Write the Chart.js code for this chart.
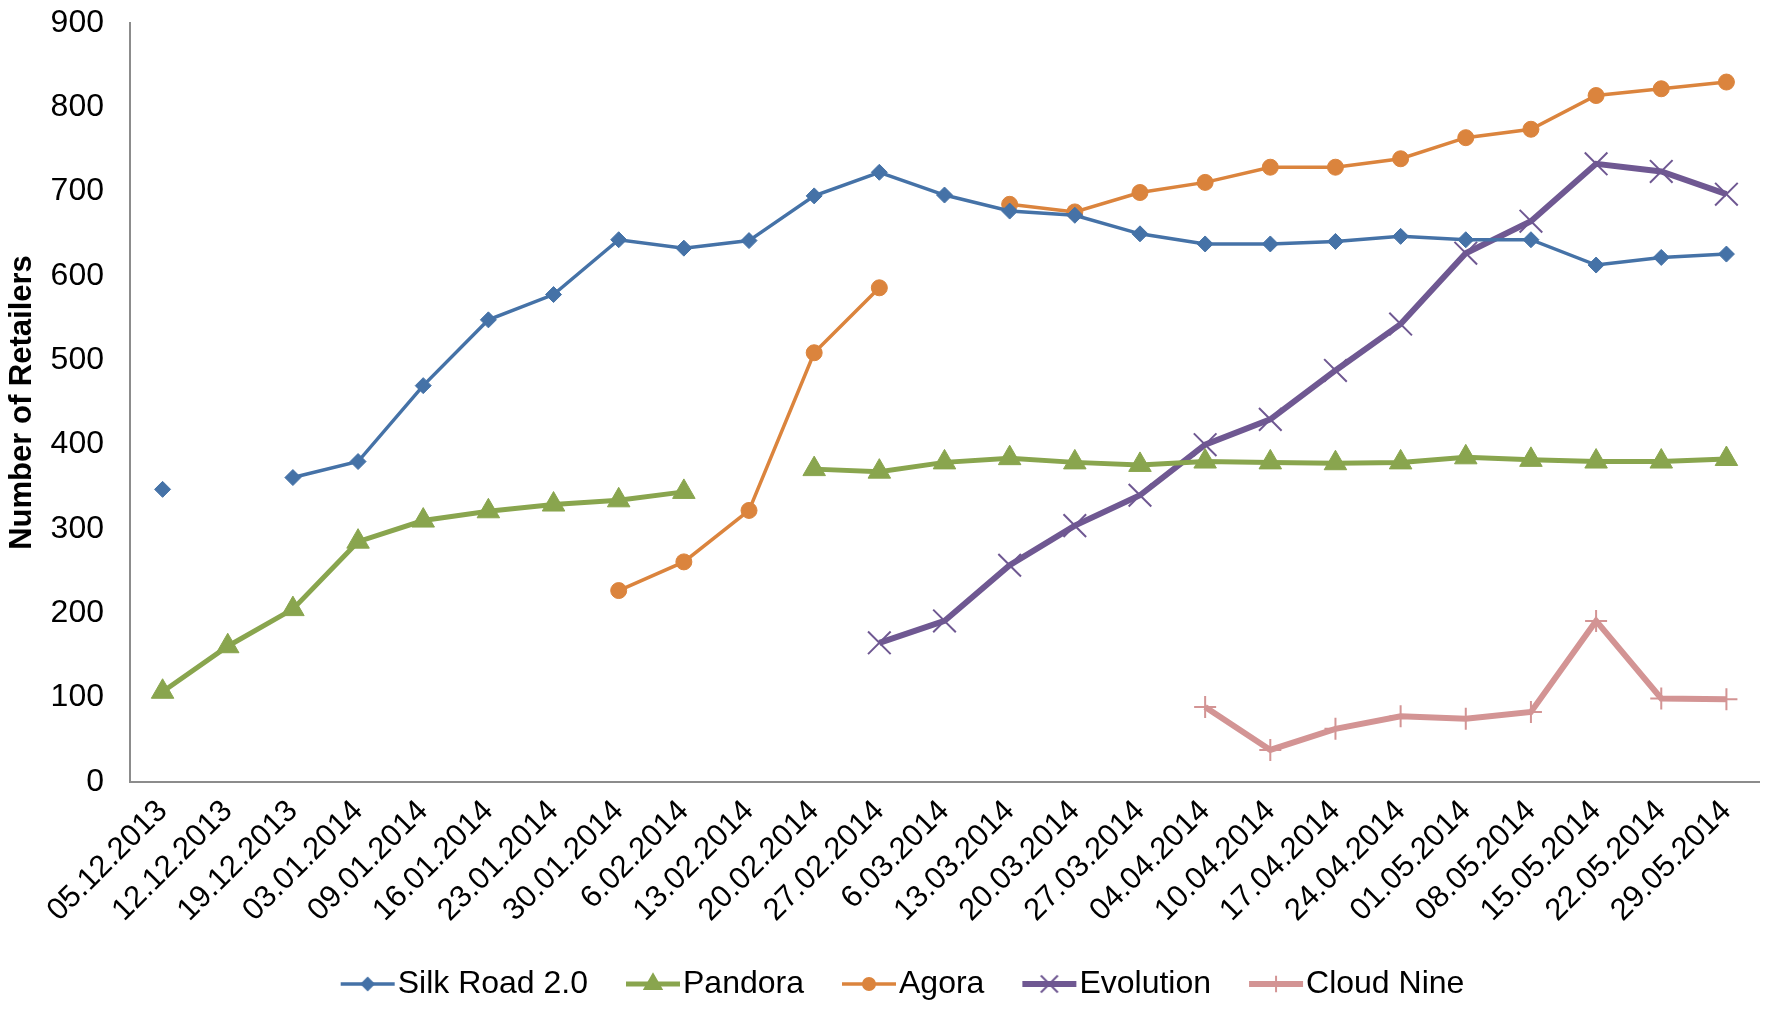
<!DOCTYPE html>
<html>
<head>
<meta charset="utf-8">
<script src="https://cdn.jsdelivr.net/npm/chart.js@4.4.1/dist/chart.umd.min.js"></script>
<style>
  html, body { margin: 0; padding: 0; background: #fff; }
  #wrap { width: 1777px; height: 1010px; }
</style>
</head>
<body>
<div id="wrap"><canvas id="myChart"></canvas></div>
<script>
const dates = ['05.12.2013', '12.12.2013', '19.12.2013', '03.01.2014', '09.01.2014', '16.01.2014',
    '23.01.2014', '30.01.2014', '6.02.2014', '13.02.2014', '20.02.2014', '27.02.2014', '6.03.2014',
    '13.03.2014', '20.03.2014', '27.03.2014', '04.04.2014', '10.04.2014', '17.04.2014', '24.04.2014',
    '01.05.2014', '08.05.2014', '15.05.2014', '22.05.2014', '29.05.2014']

const silkRoad = [347, null, 361, 380, 470, 548, 578, 643, 633, 642, 695, 723, 696,
    677, 672, 650, 638, 638, 641, 647, 643, 643, 613, 622, 626]
const pandora = [107, 161, 205, 285, 310, 321, 329, 334, 344, null, 371, 368, 379,
    384, 379, 376, 380, 379, 378, 379, 385, 382, 380, 380, 383]
const agora = [null, null, null, null, null, null, null, 227, 261, 322, 509, 586, null,
    685, 676, 699, 711, 729, 729, 739, 764, 774, 814, 822, 830]
const evolution = [null, null, null, null, null, null, null, null, null, null, null, 165, 191,
    257, 304, 340, 400, 430, 488, 543, 627, 665, 733, 724, 697]
const cloudNine = [null, null, null, null, null, null, null, null, null, null, null, null, null,
    null, null, null, 89, 38, 63, 78, 75, 83, 191, 99, 98]

const yTicks = [0, 100, 200, 300, 400, 500, 600, 700, 800, 900]

const legendFont = 32
const legendGap = 30
const legendLine = 54
const legendBox = legendLine + 3 + legendGap - legendFont / 2

// small picture of line + marker for the legend (line runs up to the text)
const legendIcon = (color, lineWidth, style, radius) => {
    let half = legendFont / 2
    let c = document.createElement('canvas')
    c.width = legendBox + 2 * half
    c.height = 30
    let g = c.getContext('2d')
    let x0 = half + legendGap
    let x1 = x0 + legendLine
    g.strokeStyle = color
    g.fillStyle = color
    g.lineWidth = lineWidth
    g.beginPath()
    g.moveTo(x0, 15)
    g.lineTo(x1, 15)
    g.stroke()
    g.lineWidth = 2
    Chart.helpers.drawPoint(g, {pointStyle: style, radius: radius, borderWidth: 2}, (x0 + x1) / 2, 15)
    return c
}

const series = [
    {label: 'Silk Road 2.0', data: silkRoad, color: '#4572A7', width: 3.5, style: 'rectRot', r: 8},
    {label: 'Pandora', data: pandora, color: '#89A54E', width: 5, style: 'triangle', r: 13},
    {label: 'Agora', data: agora, color: '#DB843D', width: 3.5, style: 'circle', r: 8},
    {label: 'Evolution', data: evolution, color: '#6F5892', width: 6, style: 'crossRot', r: 16},
    {label: 'Cloud Nine', data: cloudNine, color: '#D39494', width: 6, style: 'cross', r: 11}
]

let ctx = document.getElementById('myChart')

new Chart(ctx, {
    type: 'line',
    data: {
        labels: dates,
        datasets: series.map(s => ({
            label: s.label,
            data: s.data,
            borderColor: s.color,
            backgroundColor: s.color,
            borderWidth: s.width,
            pointStyle: s.style,
            pointRadius: s.r,
            pointBorderWidth: s.style.startsWith('cross') ? 2 : 1,
            pointBorderColor: s.color,
            pointBackgroundColor: s.color,
            spanGaps: false,
            tension: 0
        }))
    },
    options: {
        responsive: true,
        maintainAspectRatio: false,
        animation: false,
        devicePixelRatio: 1,
        layout: {
            padding: {left: 4, right: 6, top: 23, bottom: 0}
        },
        scales: {
            x: {
                offset: true,
                grid: {display: false},
                border: {display: true, color: '#8c8c8c', width: 2},
                afterFit: axis => {
                    axis.height = 178
                    axis.paddingLeft = 0
                    axis.paddingRight = 0
                },
                ticks: {
                    color: '#000',
                    font: {family: 'Liberation Sans', size: 31},
                    minRotation: 45,
                    maxRotation: 45,
                    autoSkip: false,
                    padding: 3
                }
            },
            y: {
                min: 0,
                max: 900,
                grid: {display: false},
                border: {display: true, color: '#8c8c8c', width: 2},
                afterBuildTicks: axis => {
                    axis.ticks = yTicks.map(v => ({value: v}))
                },
                afterFit: axis => {
                    axis.width = 126
                    axis.paddingTop = 0
                    axis.paddingBottom = 0
                },
                ticks: {
                    color: '#000',
                    font: {family: 'Liberation Sans', size: 32},
                    padding: 18
                },
                title: {
                    display: true,
                    text: 'Number of Retailers',
                    color: '#000',
                    font: {family: 'Liberation Sans', size: 31, weight: 'bold'},
                    padding: {top: 0, bottom: 0}
                }
            }
        },
        plugins: {
            legend: {
                position: 'bottom',
                labels: {
                    color: '#000',
                    font: {family: 'Liberation Sans', size: legendFont},
                    usePointStyle: true,
                    pointStyleWidth: legendBox,
                    padding: 8,
                    generateLabels: chart => series.map((s, i) => ({
                        text: s.label,
                        pointStyle: legendIcon(s.color, s.width, s.style, s.r * 0.75),
                        fillStyle: s.color,
                        strokeStyle: s.color,
                        lineWidth: 0,
                        hidden: false,
                        datasetIndex: i
                    }))
                }
            },
            tooltip: {enabled: false}
        }
    }
})
</script>
</body>
</html>
